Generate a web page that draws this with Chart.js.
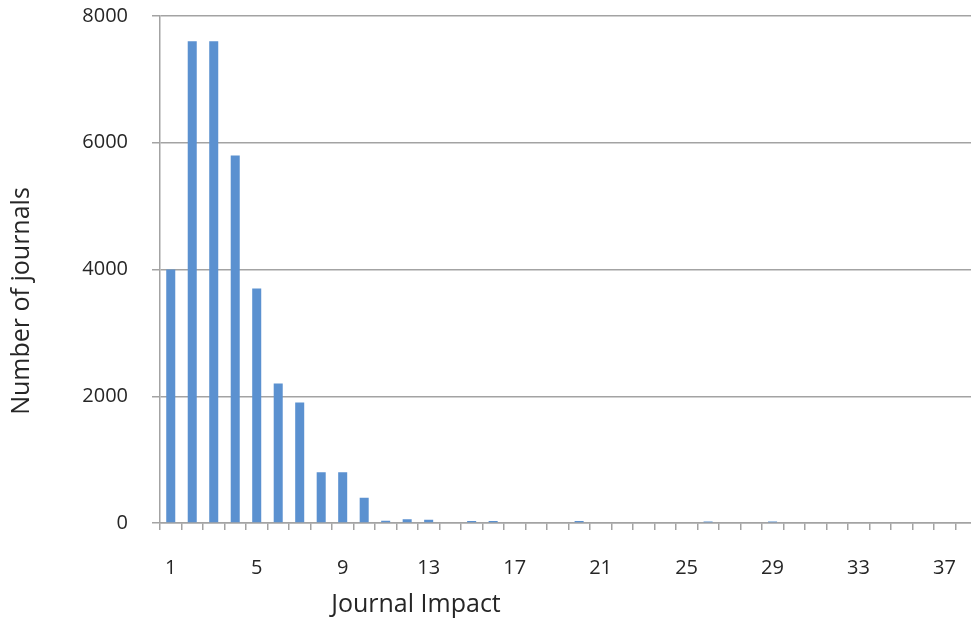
<!DOCTYPE html>
<html>
<head>
<meta charset="utf-8">
<script src="https://cdn.jsdelivr.net/npm/chart.js@4/dist/chart.umd.min.js"></script>
<style>
  html, body { margin: 0; padding: 0; background: #fff; overflow: hidden; }
  #wrap { width: 992px; height: 622px; }
</style>
</head>
<body>
<div id="wrap"><canvas id="impact_graph" width="992" height="622"></canvas></div>
<script>
// journal impact buckets 1..38 (the last one is cut off at the right edge)
const impactLabels = [];
for (let i = 1; i <= 38; i++) impactLabels.push(String(i));

const journalCounts = [
  4000, 7600, 7600, 5800, 3700, 2200, 1900, 800, 800, 400,
  35, 60, 50, 0, 30, 30, 0, 0, 0, 30,
  0, 0, 0, 0, 0, 25, 0, 0, 25, 0,
  0, 0, 0, 0, 0, 0, 0, 0
];

const yTicks = [0, 2000, 4000, 6000, 8000];

const axisTitleX = "Journal Impact";
const axisTitleY = "Number of journals";

const fontFamily = "'Open Sans', sans-serif";
const textColour = "#262626";
const lineColour = "#a3a3a3";

// draws the two axis titles where the original put them (not centred on the plot)
const axisTitles = {
  id: 'axisTitles',
  afterDraw(chart) {
    const ctx = chart.ctx;
    const area = chart.chartArea;
    ctx.save();
    ctx.fillStyle = textColour;
    ctx.font = "25px " + fontFamily;
    ctx.textAlign = 'center';
    ctx.textBaseline = 'middle';
    ctx.fillText(axisTitleX, area.left + 256, area.bottom + 82);
    ctx.translate(22, area.top + 285);
    ctx.rotate(-Math.PI / 2);
    ctx.fillText(axisTitleY, 0, 0);
    ctx.restore();
  }
};

function render_graph() {
  const graph = document.getElementById('impact_graph');
  return new Chart(graph, {
    type: 'bar',
    data: {
      labels: impactLabels,
      datasets: [{
        data: journalCounts,
        backgroundColor: '#5b91d0',
        borderWidth: 0,
        categoryPercentage: 1,
        barPercentage: 0.42
      }]
    },
    options: {
      responsive: false,
      animation: false,
      layout: { padding: { top: 16, right: 0, left: 0, bottom: 0 } },
      plugins: { legend: { display: false }, tooltip: { enabled: false } },
      scales: {
        x: {
          grid: {
            drawOnChartArea: false,
            drawTicks: true,
            tickLength: 7,
            color: lineColour,
            lineWidth: 1.5
          },
          border: { display: true, color: lineColour, width: 1.5 },
          ticks: {
            autoSkip: false,
            maxRotation: 0,
            padding: 26,
            color: textColour,
            font: { family: fontFamily, size: 20 },
            callback: (value, index) => index % 4 === 0 ? impactLabels[index] : ''
          },
          afterFit: scale => { scale.height = 99; }
        },
        y: {
          min: 0,
          max: 8000,
          afterBuildTicks: scale => { scale.ticks = yTicks.map(v => ({ value: v })); },
          grid: {
            color: lineColour,
            lineWidth: 1.5,
            tickLength: 8
          },
          border: { display: true, color: lineColour, width: 1.5 },
          ticks: {
            padding: 24,
            color: textColour,
            font: { family: fontFamily, size: 20 },
            callback: value => String(value)
          },
          afterFit: scale => {
            scale.width = 160;
            scale.paddingTop = 0;
            scale.paddingBottom = 0;
          }
        }
      }
    },
    plugins: [axisTitles]
  });
}

render_graph();
</script>
</body>
</html>
